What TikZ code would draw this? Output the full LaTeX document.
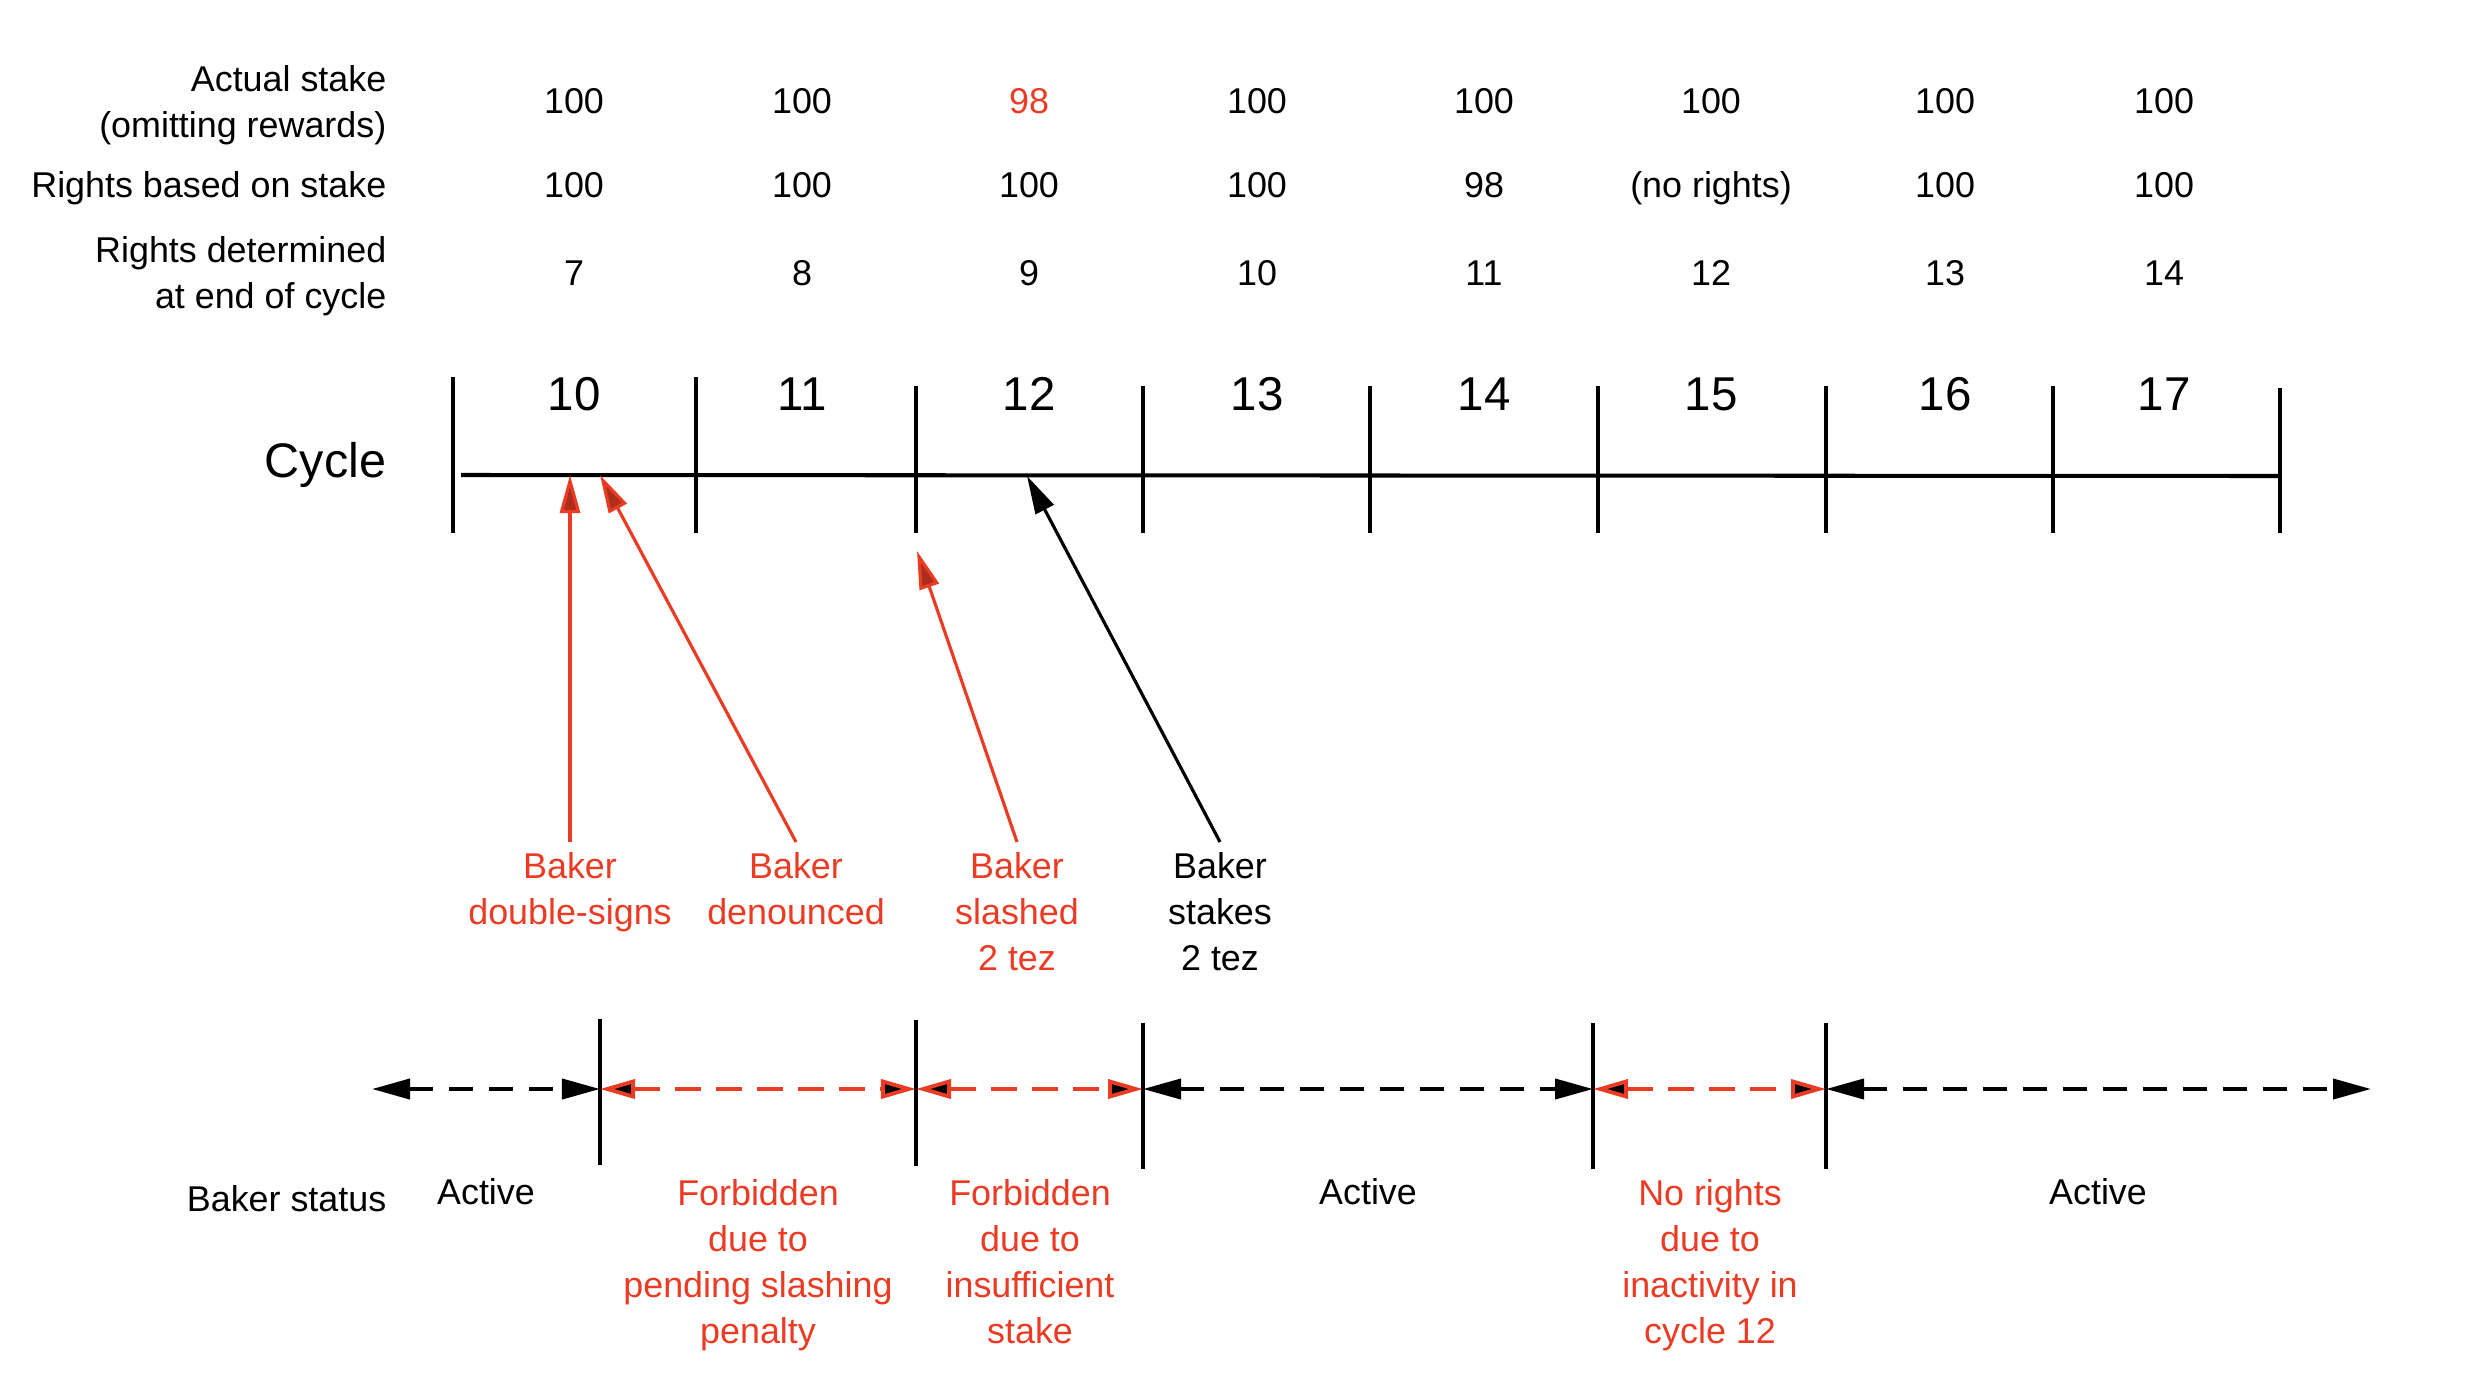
\documentclass[tikz,border=0pt]{standalone}
\usepackage{fontspec}
\setmainfont{Liberation Sans}
\usetikzlibrary{arrows.meta}
\definecolor{tzred}{RGB}{234,60,36}
\begin{document}
\begin{tikzpicture}[x=0.01cm,y=-0.01cm,
  txt/.style={font=\fontsize{10.2}{13.1}\selectfont, inner sep=0pt, align=center},
  hdr/.style={txt, align=right},
  bigtxt/.style={font=\fontsize{13.5}{16}\selectfont, inner sep=0pt},
  cyctxt/.style={font=\fontsize{13.8}{16}\selectfont, inner sep=0pt},
  axisline/.style={line width=1.15pt},
  tickline/.style={line width=0.9pt},
  evlab/.style={txt, anchor=north, inner xsep=0pt, inner ysep=0.1cm},
  stlab/.style={txt, anchor=north},
  evred/.style={draw=tzred, line width=0.9pt, -{Triangle[length=0.38cm, width=0.2cm, fill=tzred!75!black, line width=0.9pt]}},
  evblack/.style={draw=black, line width=0.9pt, -{Triangle[length=0.38cm, width=0.2cm]}},
  stblack/.style={draw=black, line width=1.15pt, dash pattern=on 0.24cm off 0.16cm,
     {Triangle[length=0.38cm, width=0.2cm]}-{Triangle[length=0.38cm, width=0.2cm]}},
  stred/.style={draw=tzred, line width=1.25pt, dash pattern=on 0.26cm off 0.15cm,
     {Triangle[length=0.35cm, width=0.19cm, fill=black, line width=1.1pt]}-{Triangle[length=0.35cm, width=0.19cm, fill=black, line width=1.1pt]}},
]
\path[use as bounding box, fill=white] (0,0) rectangle (2486,1394);

% row headers
\node[hdr, anchor=north east] (hActual) at (387,65) {Actual stake\\(omitting rewards)};
\node[txt, anchor=base east] (hRights) at (387,197) {Rights based on stake};
\node[hdr, anchor=north east] (hDet) at (387,236) {Rights determined\\at end of cycle};
\node[cyctxt, anchor=base east] (hCycle) at (387,477) {Cycle};
\node[txt, anchor=east] (hStatus) at (387,1199) {Baker status};

% table values
\foreach \x/\v/\c [count=\i] in {574/100/black,802/100/black,1029/98/tzred,1257/100/black,1484/100/black,1711/100/black,1945/100/black,2164/100/black}
  \node[txt, anchor=base, text=\c] (ra\i) at (\x,114) {\v};
\foreach \x/\v [count=\i] in {574/100,802/100,1029/100,1257/100,1484/98,1711/(no rights),1945/100,2164/100}
  \node[txt, anchor=base] (rb\i) at (\x,197) {\v};
\foreach \x/\v [count=\i] in {574/7,802/8,1029/9,1257/10,1484/11,1711/12,1945/13,2164/14}
  \node[txt, anchor=base] (rc\i) at (\x,285) {\v};
\foreach \x/\v [count=\i] in {574/10,802/11,1029/12,1257/13,1484/14,1711/15,1945/16,2164/17}
  \node[bigtxt, anchor=base] (cy\i) at (\x,410) {\v};

% cycle axis
\coordinate (ax0) at (461,475);
\coordinate (ax1) at (2280,476);
\draw[axisline] (ax0) -- (ax1);
\foreach \x/\ya [count=\i] in {453/377,696/377,916/386,1143/386,1370/386,1598/386,1826/386,2053/386,2280/388} {
  \coordinate (ta\i) at (\x,\ya);
  \coordinate (tb\i) at (\x,533);
  \draw[tickline] (ta\i) -- (tb\i);
}

% events
\node[evlab, text=tzred] (e1) at (570,842) {Baker\\double-signs};
\node[evlab, text=tzred] (e2) at (796,842) {Baker\\denounced};
\node[evlab, text=tzred] (e3) at (1017,842) {Baker\\slashed\\2 tez};
\node[evlab] (e4) at (1220,842) {Baker\\stakes\\2 tez};
\coordinate (p1) at (570,475);
\coordinate (p2) at (600,475);
\coordinate (p3) at (917,551);
\coordinate (p4) at (1027,476);
\draw[evred] (e1.north) -- (p1);
\draw[evred] (e2.north) -- (p2);
\draw[evred] (e3.north) -- (p3);
\draw[evblack] (e4.north) -- (p4);

% baker status line
\foreach \x [count=\i from 0] in {372,600,916,1143,1593,1826,2371}
  \coordinate (s\i) at (\x,1089);
\foreach \x/\ya/\yb [count=\i] in {600/1019/1165,916/1020/1166,1143/1023/1169,1593/1023/1169,1826/1023/1169} {
  \coordinate (sa\i) at (\x,\ya);
  \coordinate (sb\i) at (\x,\yb);
  \draw[tickline] (sa\i) -- (sb\i);
}
\draw[stblack] (s0) -- (s1);
\draw[stred] (s1) -- (s2);
\draw[stred] (s2) -- (s3);
\draw[stblack] (s3) -- (s4);
\draw[stred] (s4) -- (s5);
\draw[stblack] (s5) -- (s6);

% status labels
\node[stlab] (l1) at (486,1178) {Active};
\node[stlab, text=tzred] (l2) at (758,1179) {Forbidden\\due to\\pending slashing\\penalty};
\node[stlab, text=tzred] (l3) at (1030,1179) {Forbidden\\due to\\insufficient\\stake};
\node[stlab] (l4) at (1368,1178) {Active};
\node[stlab, text=tzred] (l5) at (1710,1179) {No rights\\due to\\inactivity in\\cycle 12};
\node[stlab] (l6) at (2098,1178) {Active};
\end{tikzpicture}
\end{document}
